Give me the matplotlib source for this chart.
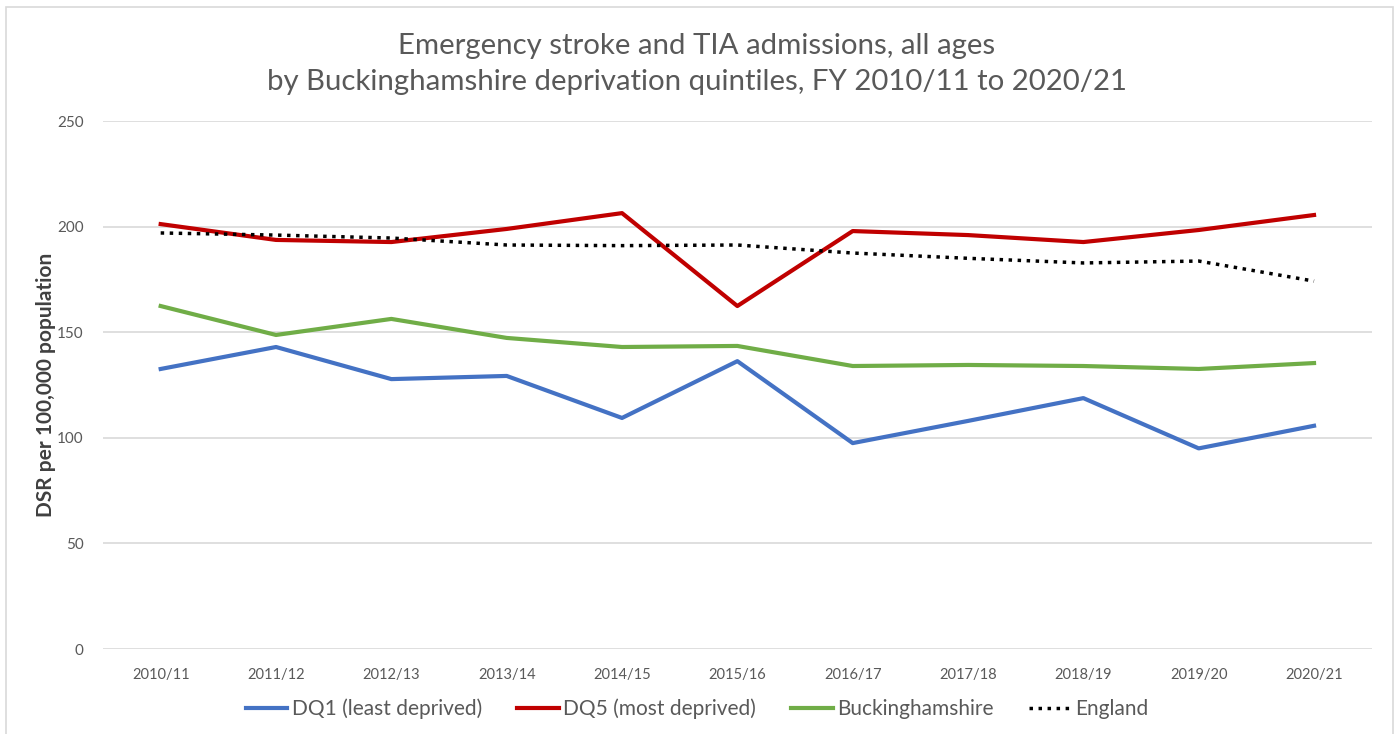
import matplotlib
matplotlib.use("Agg")
import matplotlib.pyplot as plt
from matplotlib.patches import Rectangle

# data
years = ["2010/11", "2011/12", "2012/13", "2013/14", "2014/15", "2015/16",
         "2016/17", "2017/18", "2018/19", "2019/20", "2020/21"]
dq1 = [132.6, 143.0, 127.8, 129.3, 109.4, 136.3, 97.5, 108.0, 118.8, 95.0, 105.7]
dq5 = [201.2, 193.7, 192.7, 198.9, 206.4, 162.4, 197.9, 196.0, 192.7, 198.4, 205.5]
bucks = [162.4, 148.7, 156.3, 147.3, 143.0, 143.5, 134.0, 134.5, 134.0, 132.6, 135.4]
england = [197.0, 196.0, 194.6, 191.3, 191.0, 191.3, 187.5, 185.0, 182.8, 183.7, 174.2]

plt.rcParams['font.family'] = ['Lato', 'DejaVu Sans']

fig = plt.figure(figsize=(13.94, 7.34), dpi=100)
ax = fig.add_axes([0.0739, 0.1158, 0.9101, 0.7193])

# outer chart border
fig.patches.append(Rectangle((0.004, -0.01), 0.995, 1.0, transform=fig.transFigure,
                             fill=False, edgecolor='#d9d9d9', linewidth=1.2))

x = list(range(len(years)))
ax.plot(x, dq1, color='#4472c4', lw=3, label='DQ1 (least deprived)')
ax.plot(x, dq5, color='#c00000', lw=3, label='DQ5 (most deprived)')
ax.plot(x, bucks, color='#70ad47', lw=3, label='Buckinghamshire')
ax.plot(x, england, color='black', lw=2.5, ls=(0, (1, 1.6)), label='England')

ax.set_xlim(-0.5, len(years) - 0.5)
ax.set_ylim(0, 250)
ax.set_yticks([0, 50, 100, 150, 200, 250])
ax.set_xticks(x)
ax.set_xticklabels(years)
ax.grid(axis='y', color='#d9d9d9', lw=1.2)
ax.set_axisbelow(True)
for s in ax.spines.values():
    s.set_visible(False)
ax.tick_params(length=0, colors='#595959', labelsize=11)
ax.tick_params(axis='x', pad=14, labelsize=10.5)
ax.tick_params(axis='y', pad=14)

ax.set_ylabel('DSR per 100,000 population', fontsize=15, fontweight='bold',
              color='#404040', labelpad=1)

fig.text(0.5, 0.913, 'Emergency stroke and TIA admissions, all ages\n'
         'by Buckinghamshire deprivation quintiles, FY 2010/11 to 2020/21',
         ha='center', va='center', fontsize=21.2, color='#595959', linespacing=1.5)

fig.legend(loc='center', bbox_to_anchor=(0.5, 0.034), ncol=4, frameon=False,
           fontsize=15, labelcolor='#595959', handlelength=2.0, handletextpad=0.2,
           columnspacing=1.7)

fig.savefig('out.png', dpi=100)
